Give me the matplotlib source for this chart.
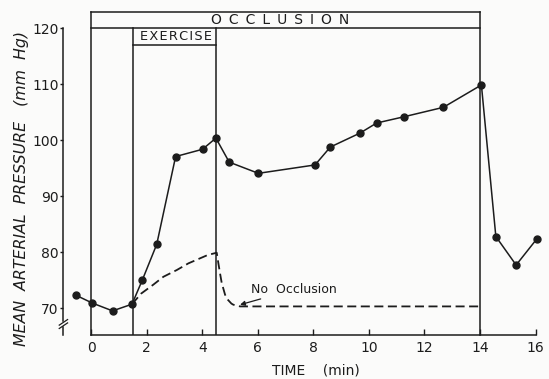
import matplotlib
matplotlib.use("Agg")
import matplotlib.pyplot as plt

# mean arterial pressure with occlusion (measured points)
time_occl = [-0.55, 0.04, 0.77, 1.47, 1.84, 2.36, 3.04, 4.01, 4.49, 4.97, 6.02,
             8.06, 8.61, 9.68, 10.28, 11.25, 12.68, 14.05, 14.57, 15.30, 16.05]
map_occl = [72.3, 70.9, 69.5, 70.7, 75.0, 81.4, 97.1, 98.4, 100.4, 96.1, 94.1,
            95.6, 98.8, 101.3, 103.1, 104.2, 105.9, 109.9, 82.8, 77.7, 82.4]

# response without occlusion (dashed curve)
time_free = [1.47, 1.8, 2.24, 2.6, 3.08, 3.5, 3.92, 4.2, 4.52, 4.58, 4.64, 4.7,
             4.82, 4.9, 5.05, 5.12, 5.36, 14.0]
map_free = [70.7, 72.6, 74.2, 75.6, 76.8, 78.0, 78.9, 79.5, 79.9, 78.0, 76.2, 74.5,
            72.4, 71.6, 70.8, 70.6, 70.3, 70.3]

occlusion = (0, 14)
exercise = (1.5, 4.5)
xticks = [0, 2, 4, 6, 8, 10, 12, 14, 16]
yticks = [70, 80, 90, 100, 110, 120]

ink = "#1c1c1c"
plt.rcParams['font.family'] = ['DejaVu Sans']

fig = plt.figure(figsize=(5.49, 3.79), dpi=100, facecolor="#fbfbfa")
ax = fig.add_axes([0.1155, 0.1148, 0.8752, 0.8543])
ax.set_facecolor("none")
ax.set_xlim(-1.0, 16.3)
ax.set_ylim(65.1, 123.0)

# occlusion / exercise boxes
ymin, ymax = ax.get_ylim()
for x in occlusion:
    ax.plot([x, x], [ymin, ymax], color=ink, lw=1.1, clip_on=False)
ax.plot(occlusion, [ymax, ymax], color=ink, lw=1.1, clip_on=False)
ax.plot(occlusion, [120, 120], color=ink, lw=1.1, clip_on=False)
for x in exercise:
    ax.plot([x, x], [ymin, 120], color=ink, lw=1.1)
ax.plot(exercise, [117.1, 117.1], color=ink, lw=1.1)
ax.text(6.82, 121.45, "\u2002".join("OCCLUSION"), ha="center", va="center",
        fontsize=10, color=ink)
ax.text(3.05, 118.55, "\u200a".join("EXERCISE"), ha="center", va="center",
        fontsize=9.3, color=ink)

# data
ax.plot(time_free, map_free, color=ink, lw=1.3, dashes=(5, 2.5))
ax.plot(time_occl, map_occl, color=ink, lw=1.1, marker="o", markersize=5,
        clip_on=False, zorder=5)
ax.annotate("No  Occlusion", xy=(time_free[16], map_free[16] + 0.3), xytext=(5.74, 73.3),
            ha="left", va="center", fontsize=9, color=ink,
            arrowprops=dict(arrowstyle="-|>", color=ink, lw=0.9, mutation_scale=7,
                            shrinkA=0, shrinkB=0))

# axes
for s in ["top", "right"]:
    ax.spines[s].set_visible(False)
ax.spines["bottom"].set_bounds(0, 16)
ax.spines["left"].set_bounds(67.7, 120)
for s in ["bottom", "left"]:
    ax.spines[s].set_color(ink)
    ax.spines[s].set_linewidth(1.1)
# axis break on the left spine
ax.plot([-1.0, -1.0], [ymin, 66.6], color=ink, lw=1.1, clip_on=False)
for yb in (66.85, 67.45):
    ax.plot([-1.15, -0.85], [yb - 0.5, yb + 0.5], color=ink, lw=0.9, clip_on=False)

ax.set_xticks(xticks)
ax.set_yticks(yticks)
ax.tick_params(axis="x", direction="in", length=4.5, width=1.0, pad=4,
               labelsize=10, colors=ink)
ax.tick_params(axis="y", direction="out", length=2.5, width=1.0, pad=1,
               labelsize=10, colors=ink)

ax.text(0.5257, -0.1096, "TIME    (min)", transform=ax.transAxes, ha="center",
        va="center", fontsize=10, color=ink)
fig.text(0.04, 1 - 188 / 379, "MEAN  ARTERIAL  PRESSURE   (mm  Hg)", rotation=90,
         ha="center", va="center", fontsize=11.3, style="italic", color=ink)

fig.savefig("out.png", dpi=100, facecolor=fig.get_facecolor())
